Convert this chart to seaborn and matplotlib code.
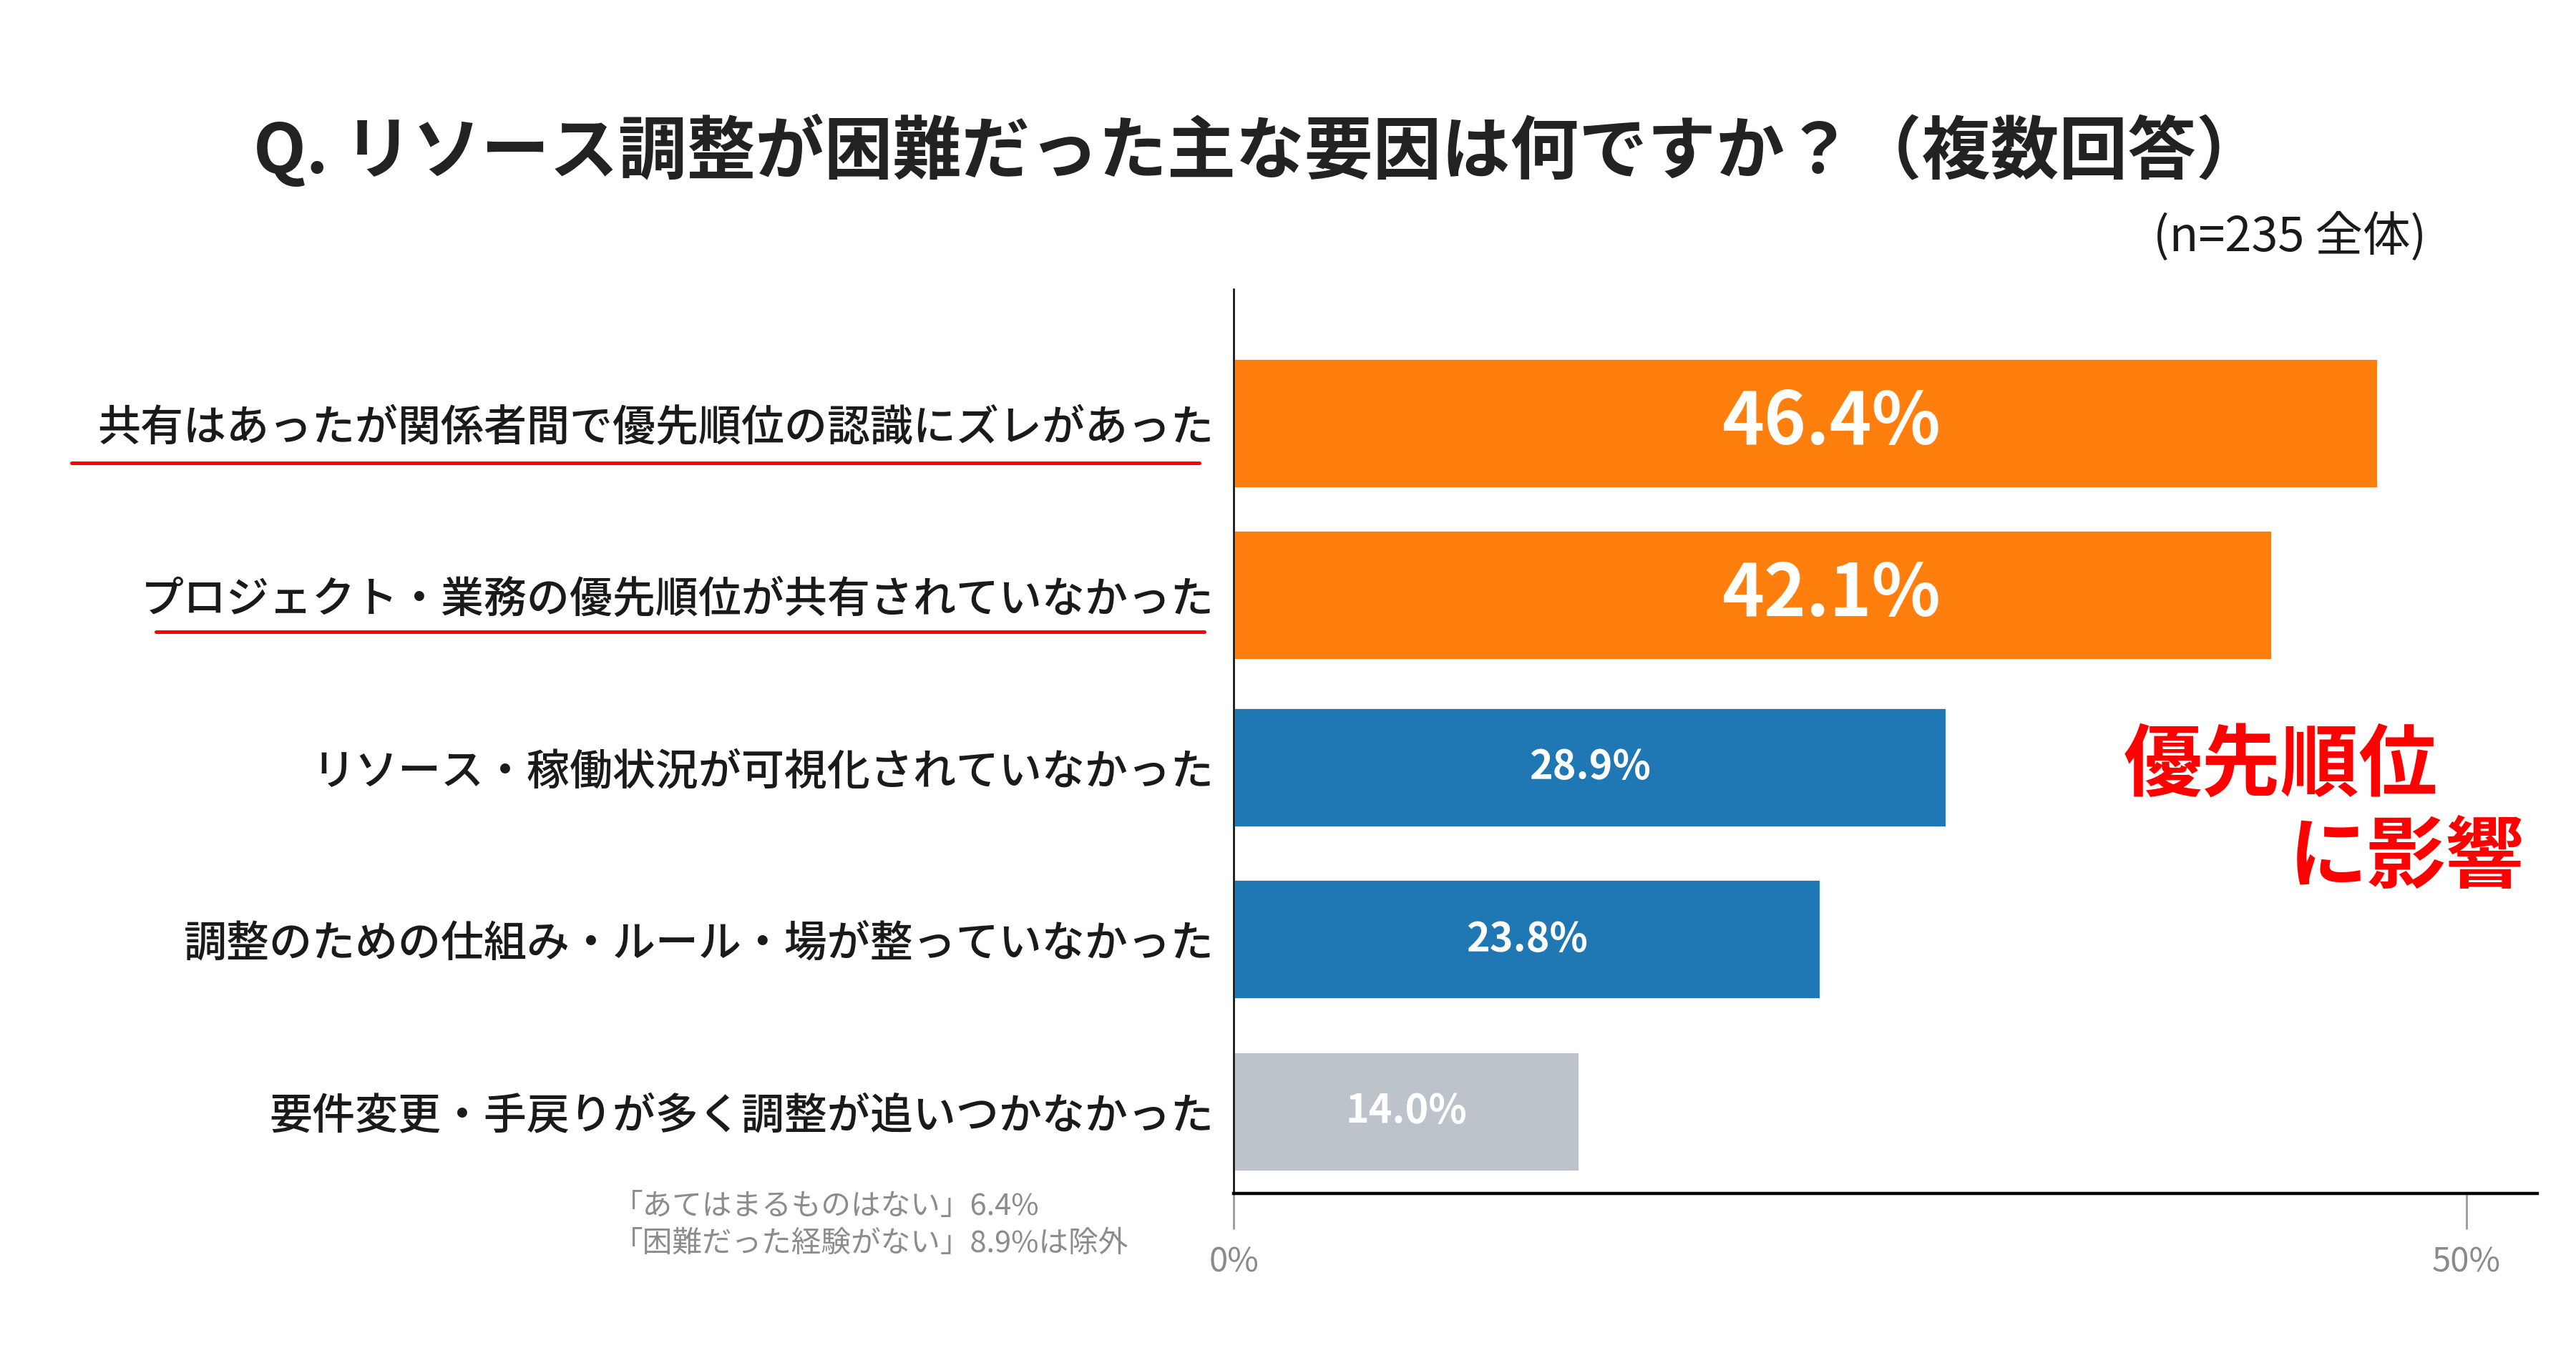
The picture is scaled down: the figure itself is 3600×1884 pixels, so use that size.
import matplotlib
matplotlib.use('Agg')
import matplotlib.pyplot as plt
from matplotlib.lines import Line2D
import seaborn as sns
import pandas as pd

# data
categories = [
    '共有はあったが関係者間で優先順位の認識にズレがあった',
    'プロジェクト・業務の優先順位が共有されていなかった',
    'リソース・稼働状況が可視化されていなかった',
    '調整のための仕組み・ルール・場が整っていなかった',
    '要件変更・手戻りが多く調整が追いつかなかった',
]
values = [46.4, 42.1, 28.9, 23.8, 14.0]
groups = ['focus', 'focus', 'normal', 'normal', 'other']
xticks = [0, 50]
xtick_labels = ['0%', '50%']

palette = {'focus': '#ff7f0e', 'normal': '#1f77b4', 'other': '#bcc3ca'}

df = pd.DataFrame({'category': categories, 'value': values, 'group': groups})

sns.set_style('white')
plt.rcParams['font.family'] = ['Noto Sans CJK JP', 'DejaVu Sans']

fig = plt.figure(figsize=(18, 9.42), dpi=200)
ax = fig.add_axes([0.479, 0.1146, 0.506, 0.671])

# highlighted bars are a bit thicker than the rest
focus = df[df.group == 'focus']
rest = df[df.group != 'focus']
sns.barplot(data=focus, x='value', y='category', order=categories,
            color=palette['focus'], width=0.753, saturation=1,
            errorbar=None, ax=ax)
sns.barplot(data=rest, x='value', y='category', order=categories,
            hue='group', palette=palette, width=0.695, saturation=1,
            errorbar=None, legend=False, ax=ax)

# value labels
for i, (v, g) in enumerate(zip(values, groups)):
    if g == 'focus':
        ax.text(19.8, i, f'{v:.1f}%', ha='left', va='center',
                fontsize=36, weight='bold', color='white')
    else:
        ax.text(v / 2, i, f'{v:.1f}%', ha='center', va='center',
                fontsize=20, weight='bold', color='white')

ax.set_xlim(0, 52.87)
ax.set_ylim(4.478, -0.78)
ax.set_xlabel('')
ax.set_ylabel('')
ax.set_xticks(xticks, xtick_labels)

ax.tick_params(axis='x', bottom=True, length=18, width=1.0, color='#9a9a9a',
               labelcolor='#8a8a8a', labelsize=17, pad=8)
ax.xaxis.get_major_ticks()[1].tick1line.set_color('#222222')
ax.tick_params(axis='y', length=0, pad=10, labelsize=21.6, labelcolor='#1a1a1a')
for lbl in ax.get_yticklabels():
    lbl.set_fontweight('medium')

for side in ['top', 'right']:
    ax.spines[side].set_visible(False)
ax.spines['bottom'].set_color('black')
ax.spines['bottom'].set_linewidth(1.6)
ax.spines['left'].set_color('black')
ax.spines['left'].set_linewidth(0.9)

# red underlines under the first two labels
fig.add_artist(Line2D([100 / 3600, 1676 / 3600], [1 - 646.5 / 1884] * 2,
                      color='#ff0000', lw=1.8))
fig.add_artist(Line2D([218 / 3600, 1683 / 3600], [1 - 883.5 / 1884] * 2,
                      color='#ff0000', lw=1.8))

# title and sample size
fig.text(0.4888, 0.8875, 'Q. リソース調整が困難だった主な要因は何ですか？（複数回答）',
         ha='center', va='center', fontsize=34.5, weight='bold', color='#222222')
fig.text(0.942, 0.824, '(n=235 全体)', ha='right', va='center',
         fontsize=24, color='#1a1a1a')

# red call-out
fig.text(0.8245, 0.431, '優先順位', ha='left', va='center',
         fontsize=39.5, weight='bold', color='#ff0000')
fig.text(0.98, 0.363, 'に影響', ha='right', va='center',
         fontsize=39.5, weight='bold', color='#ff0000')

# footnote
fig.text(0.238, 0.1046, '「あてはまるものはない」6.4%', ha='left', va='center',
         fontsize=15, color='#8c8c8c')
fig.text(0.238, 0.0775, '「困難だった経験がない」8.9%は除外', ha='left', va='center',
         fontsize=15, color='#8c8c8c')

fig.savefig('out.png', dpi=200)
